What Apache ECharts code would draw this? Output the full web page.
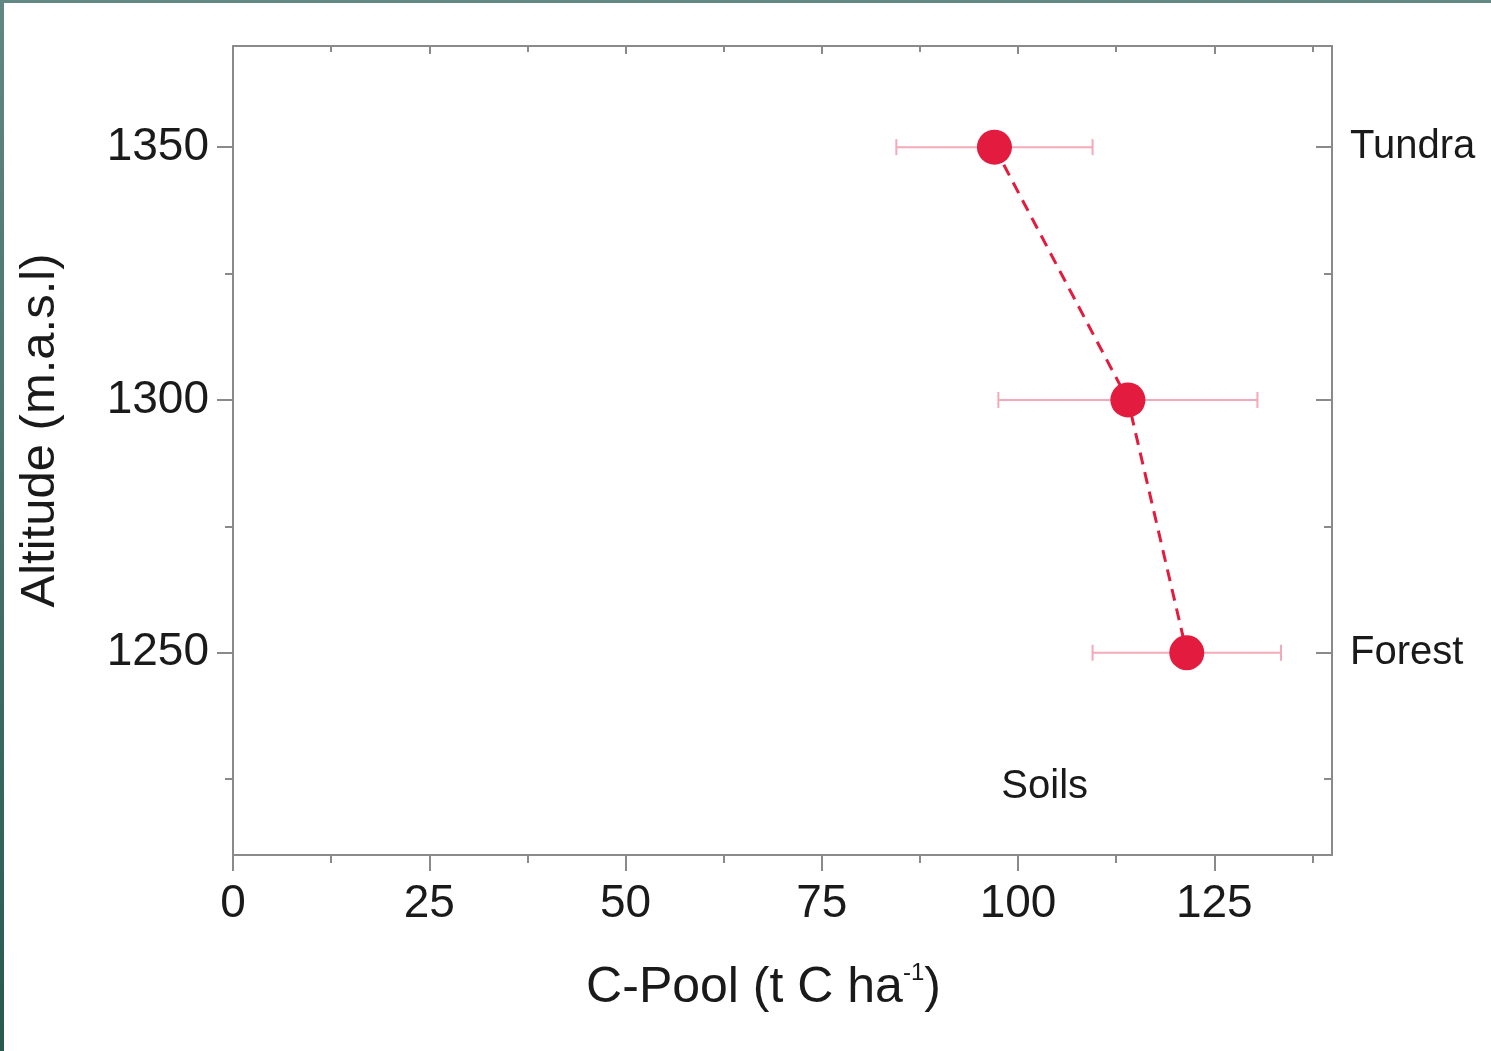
<!DOCTYPE html>
<html>
<head>
<meta charset="utf-8">
<script src="https://cdn.jsdelivr.net/npm/echarts@6/dist/echarts.min.js"></script>
<style>
html,body{margin:0;padding:0;background:#fff;}
#chart{position:absolute;left:0;top:0;width:1491px;height:1051px;}
#fl{position:absolute;left:0;top:0;width:4px;height:1051px;background:linear-gradient(#628783,#285a50);z-index:5;}
#ft{position:absolute;left:0;top:0;width:1491px;height:3px;background:#648884;z-index:5;}
</style>
</head>
<body>
<div id="chart"></div>
<div id="fl"></div>
<div id="ft"></div>
<script>
// Data
const altitudes = [1350, 1300, 1250];
const cPool = [97, 114, 121.5];
const errLow = [84.5, 97.5, 109.5];
const errHigh = [109.5, 130.5, 133.5];
const zoneLabels = {1350: 'Tundra', 1250: 'Forest'};
const xMajorTicks = [0, 25, 50, 75, 100, 125];
const xMinorTicks = [12.5, 37.5, 62.5, 87.5, 112.5, 137.5];
const yMajorTicks = [1250, 1300, 1350];
const yMinorTicks = [1225, 1275, 1325];
const annotation = {x: 103.4, y: 1223.5, text: 'Soils'};

const FONT = '"Liberation Sans", Arial, Helvetica, sans-serif';
const AXIS = '#8a8a8a';
const RED = '#e31b3e';
const TXT = '#1a1a1a';

const chart = echarts.init(document.getElementById('chart'));

const xBase = {type: 'value', min: 0, max: 140, splitLine: {show: false}};
const yBase = {type: 'value', min: 1210, max: 1370, splitLine: {show: false}};
const line = {show: true, onZero: false, lineStyle: {color: AXIS, width: 2}};
const tickStyle = {color: AXIS, width: 2};

chart.setOption({
  backgroundColor: '#ffffff',
  animation: false,
  grid: {left: 233, top: 46, right: 159, bottom: 196},
  xAxis: [
    Object.assign({}, xBase, {
      position: 'bottom',
      axisLine: line,
      axisTick: {show: true, inside: false, length: 16, customValues: xMajorTicks, lineStyle: tickStyle},
      axisLabel: {show: true, margin: 26, fontSize: 46, color: TXT, fontFamily: FONT, customValues: xMajorTicks, formatter: v => String(v)},
      name: 'C-Pool (t C ha{sup|-1})',
      nameLocation: 'middle', nameGap: 106,
      nameTextStyle: {fontSize: 50, color: TXT, fontFamily: FONT, padding: [0, 38, 0, 0],
        rich: {sup: {fontSize: 24, verticalAlign: 'top', padding: [0, 0, 30, 0], color: TXT, fontFamily: FONT}}}
    }),
    Object.assign({}, xBase, {
      position: 'bottom', offset: 0,
      axisLine: {show: false, onZero: false},
      axisTick: {show: true, inside: false, length: 8, customValues: xMinorTicks, lineStyle: tickStyle},
      axisLabel: {show: false}
    }),
    Object.assign({}, xBase, {
      position: 'top', offset: 0,
      axisLine: line,
      axisTick: {show: true, inside: true, length: 8, customValues: xMajorTicks, lineStyle: tickStyle},
      axisLabel: {show: false}
    }),
    Object.assign({}, xBase, {
      position: 'top', offset: 0,
      axisLine: {show: false, onZero: false},
      axisTick: {show: true, inside: true, length: 6, customValues: xMinorTicks, lineStyle: tickStyle},
      axisLabel: {show: false}
    })
  ],
  yAxis: [
    Object.assign({}, yBase, {
      position: 'left',
      axisLine: line,
      axisTick: {show: true, inside: false, length: 16, customValues: yMajorTicks, lineStyle: tickStyle},
      axisLabel: {show: true, margin: 24, fontSize: 46, color: TXT, fontFamily: FONT, customValues: yMajorTicks, formatter: v => String(v)},
      name: 'Altitude (m.a.s.l)', nameLocation: 'middle', nameGap: 168, nameRotate: 90,
      nameTextStyle: {fontSize: 49, color: TXT, fontFamily: FONT, padding: [0, 0, 0, 40]}
    }),
    Object.assign({}, yBase, {
      position: 'left', offset: 0,
      axisLine: {show: false, onZero: false},
      axisTick: {show: true, inside: false, length: 8, customValues: yMinorTicks, lineStyle: tickStyle},
      axisLabel: {show: false}
    }),
    Object.assign({}, yBase, {
      position: 'right', offset: 0,
      axisLine: line,
      axisTick: {show: true, inside: true, length: 16, customValues: yMajorTicks, lineStyle: tickStyle},
      axisLabel: {show: true, margin: 18, fontSize: 40, color: TXT, fontFamily: FONT,
        customValues: yMajorTicks, formatter: v => zoneLabels[v] || ''}
    }),
    Object.assign({}, yBase, {
      position: 'right', offset: 0,
      axisLine: {show: false, onZero: false},
      axisTick: {show: true, inside: true, length: 8, customValues: yMinorTicks, lineStyle: tickStyle},
      axisLabel: {show: false}
    })
  ],
  series: [
    {
      type: 'custom', xAxisIndex: 0, yAxisIndex: 0, z: 1,
      data: altitudes.map((a, i) => [errLow[i], errHigh[i], a]),
      renderItem: function (params, api) {
        const p1 = api.coord([api.value(0), api.value(2)]);
        const p2 = api.coord([api.value(1), api.value(2)]);
        const cap = 8;
        const st = {stroke: '#f3a9b7', lineWidth: 2, fill: null};
        return {type: 'group', children: [
          {type: 'line', shape: {x1: p1[0], y1: p1[1], x2: p2[0], y2: p2[1]}, style: st},
          {type: 'line', shape: {x1: p1[0], y1: p1[1] - cap, x2: p1[0], y2: p1[1] + cap}, style: st},
          {type: 'line', shape: {x1: p2[0], y1: p2[1] - cap, x2: p2[0], y2: p2[1] + cap}, style: st}
        ]};
      }
    },
    {
      type: 'line', xAxisIndex: 0, yAxisIndex: 0, z: 3,
      data: altitudes.map((a, i) => [cPool[i], a]),
      symbol: 'circle', symbolSize: 35,
      itemStyle: {color: RED, borderWidth: 0},
      lineStyle: {color: RED, width: 3, type: [12, 8]}
    },
    {
      type: 'scatter', xAxisIndex: 0, yAxisIndex: 0, z: 4,
      data: [[annotation.x, annotation.y]],
      symbolSize: 1,
      itemStyle: {opacity: 1, color: 'rgba(0,0,0,0)'},
      label: {show: true, position: 'inside', formatter: annotation.text, fontSize: 40, color: TXT, fontFamily: FONT}
    }
  ]
});
</script>
</body>
</html>
